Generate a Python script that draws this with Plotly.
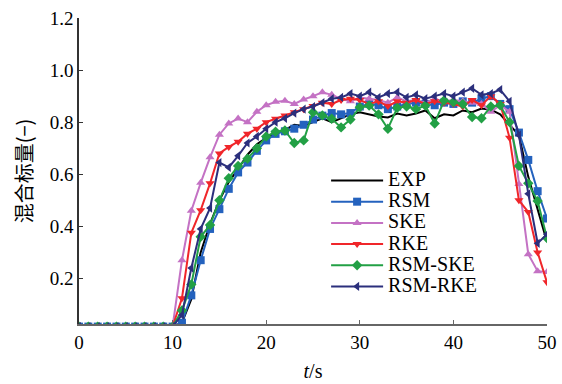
import plotly.graph_objects as go

t = list(range(0, 51))
base = [0.015] * 11  # t = 0..10

exp_vals = base + [0.03, 0.12, 0.30, 0.41, 0.50, 0.57, 0.62, 0.675, 0.715, 0.74,
                   0.755, 0.77, 0.79, 0.785, 0.80, 0.815, 0.80, 0.815, 0.83, 0.838,
                   0.83, 0.822, 0.818, 0.833, 0.826, 0.833, 0.845, 0.815, 0.83, 0.826,
                   0.845, 0.838, 0.852, 0.848, 0.83, 0.79, 0.75, 0.59, 0.46, 0.34]
rsm_vals = base + [0.03, 0.135, 0.27, 0.39, 0.466, 0.544, 0.607, 0.645, 0.69, 0.73,
                   0.755, 0.765, 0.775, 0.79, 0.81, 0.825, 0.835, 0.83, 0.835, 0.86,
                   0.87, 0.865, 0.85, 0.86, 0.87, 0.875, 0.87, 0.865, 0.875, 0.87,
                   0.88, 0.875, 0.89, 0.90, 0.87, 0.85, 0.76, 0.655, 0.535, 0.43]
ske_vals = base + [0.27, 0.46, 0.567, 0.665, 0.752, 0.795, 0.814, 0.80, 0.84, 0.865,
                   0.878, 0.882, 0.87, 0.887, 0.90, 0.915, 0.905, 0.89, 0.88, 0.895,
                   0.89, 0.885, 0.875, 0.895, 0.88, 0.885, 0.875, 0.89, 0.88, 0.885,
                   0.88, 0.875, 0.87, 0.84, 0.865, 0.84, 0.563, 0.293, 0.228, 0.225]
rke_vals = base + [0.124, 0.375, 0.462, 0.565, 0.68, 0.705, 0.725, 0.756, 0.775, 0.80,
                   0.813, 0.826, 0.838, 0.85, 0.862, 0.875, 0.87, 0.885, 0.89, 0.885,
                   0.87, 0.88, 0.862, 0.88, 0.875, 0.885, 0.87, 0.88, 0.875, 0.87,
                   0.86, 0.885, 0.865, 0.90, 0.87, 0.74, 0.50, 0.455, 0.30, 0.185]
rsm_ske_vals = base + [0.077, 0.177, 0.36, 0.405, 0.50, 0.585, 0.632, 0.66, 0.70, 0.745,
                       0.763, 0.768, 0.72, 0.73, 0.838, 0.826, 0.813, 0.78, 0.81, 0.857,
                       0.864, 0.83, 0.775, 0.855, 0.86, 0.85, 0.864, 0.795, 0.883, 0.877,
                       0.87, 0.82, 0.815, 0.86, 0.865, 0.80, 0.632, 0.565, 0.497, 0.355]
rsm_rke_vals = base + [0.06, 0.24, 0.39, 0.47, 0.645, 0.626, 0.671, 0.72, 0.745, 0.775,
                       0.80, 0.815, 0.835, 0.85, 0.86, 0.875, 0.89, 0.895, 0.91, 0.90,
                       0.915, 0.895, 0.91, 0.915, 0.895, 0.905, 0.89, 0.90, 0.91, 0.90,
                       0.915, 0.93, 0.905, 0.91, 0.925, 0.88, 0.75, 0.525, 0.335, 0.37]

series = [
    ("EXP", exp_vals, "#000000", None),
    ("RSM", rsm_vals, "#2462BE", "square"),
    ("SKE", ske_vals, "#C472C4", "triangle-up"),
    ("RKE", rke_vals, "#F0262A", "triangle-down"),
    ("RSM-SKE", rsm_ske_vals, "#22A045", "diamond"),
    ("RSM-RKE", rsm_rke_vals, "#2B2F7C", "triangle-left"),
]

x_ticks = [0, 10, 20, 30, 40, 50]
x_labels = ["0", "10", "20", "30", "40", "50"]
y_ticks = [0.2, 0.4, 0.6, 0.8, 1.0, 1.2]
y_labels = ["0.2", "0.4", "0.6", "0.8", "1.0", "1.2"]

serif = "Times New Roman"


def sp(s, size):
    return '<span style="font-size:%dpx">%s</span>' % (size, s)


fig = go.Figure()
for name, vals, color, sym in series:
    label = sp(name, 20)
    if sym is None:
        fig.add_trace(go.Scatter(x=t, y=vals, name=label, mode="lines",
                                 line=dict(color=color, width=2)))
    else:
        fig.add_trace(go.Scatter(x=t, y=vals, name=label, mode="lines+markers",
                                 line=dict(color=color, width=2),
                                 marker=dict(symbol=sym, size=8, color=color)))

fig.update_layout(
    width=562, height=384,
    margin=dict(l=79, r=15, t=18, b=60, autoexpand=False),
    paper_bgcolor="white", plot_bgcolor="white",
    font=dict(family=serif, size=19, color="black"),
    legend=dict(x=0.528, y=0.52, xanchor="left", yanchor="top",
                bgcolor="rgba(0,0,0,0)", font=dict(family=serif, size=14),
                tracegroupgap=0, itemwidth=52),
    xaxis=dict(range=[0, 50], tickvals=x_ticks, ticktext=[sp(s, 19) for s in x_labels],
               ticks="inside", ticklen=4,
               tickcolor="#666", showline=True, linecolor="#666", linewidth=1.5,
               showgrid=False, zeroline=False, mirror=False, automargin=False,
               tickfont=dict(family=serif, size=19),
               title=dict(text=sp("<i>t</i>/s", 20), font=dict(family=serif, size=20), standoff=12)),
    yaxis=dict(range=[0.025, 1.2], tickvals=y_ticks, ticktext=[sp(s, 19) for s in y_labels],
               ticks="inside", ticklen=4, tickcolor="#333", showline=True, linecolor="#333",
               linewidth=1.5, showgrid=False, zeroline=False, automargin=False,
               tickfont=dict(family=serif, size=19),
               title=dict(text="混合标量(−)", font=dict(family="Noto Sans CJK SC", size=20), standoff=12)),
    showlegend=True,
)

fig.write_html("out.html")
